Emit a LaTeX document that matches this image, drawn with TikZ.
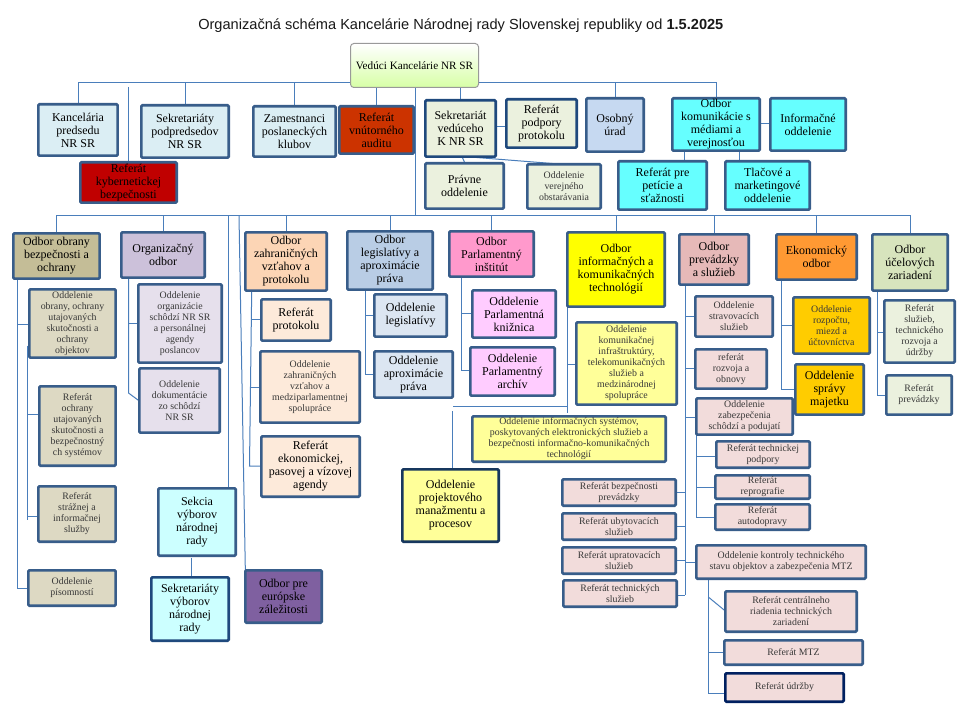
\documentclass[tikz,border=0pt]{standalone}
\usepackage{fontspec}
\setmainfont{Liberation Serif}
\newfontfamily\titlefont{Liberation Sans}
\usetikzlibrary{backgrounds}
\definecolor{bord}{HTML}{385D8A}
\definecolor{bordd}{HTML}{1F497D}
\definecolor{bordn}{HTML}{17375E}
\definecolor{bordu}{HTML}{002060}
\definecolor{lnk}{HTML}{4A7EBB}
\definecolor{cPred}{HTML}{DBEEF4}
\definecolor{cAud}{HTML}{CC3300}
\definecolor{cKyb}{HTML}{C00000}
\definecolor{cSek}{HTML}{EBF1DE}
\definecolor{cOso}{HTML}{C6D9F1}
\definecolor{cCya}{HTML}{66FFFF}
\definecolor{cObr}{HTML}{C4BD97}
\definecolor{cObs}{HTML}{DDD9C3}
\definecolor{cOrg}{HTML}{CCC1DA}
\definecolor{cOrs}{HTML}{E6E0EC}
\definecolor{cZah}{HTML}{FCD5B5}
\definecolor{cZas}{HTML}{FDEADA}
\definecolor{cLeg}{HTML}{B9CDE5}
\definecolor{cLes}{HTML}{DCE6F2}
\definecolor{cPar}{HTML}{FF99CC}
\definecolor{cPas}{HTML}{FFCCFF}
\definecolor{cInf}{HTML}{FFFF00}
\definecolor{cIns}{HTML}{FFFF99}
\definecolor{cPre}{HTML}{E6B9B8}
\definecolor{cPrs}{HTML}{F2DCDB}
\definecolor{cEko}{HTML}{FF9933}
\definecolor{cEks}{HTML}{FFCC00}
\definecolor{cUce}{HTML}{D7E4BD}
\definecolor{cVyb}{HTML}{CCFFFF}
\definecolor{cEur}{HTML}{7F60A0}
\tikzset{
  boxb/.style={draw=bord,line width=2pt,rounded corners=0.8pt,inner sep=0pt,outer sep=0pt,align=center,text=black,
    font=\fontsize{9}{9.75}\selectfont},
  sm/.style={text=black!78,font=\fontsize{7.4}{8.25}\selectfont},
  conn/.style={draw=lnk,line width=0.75pt},
  dk/.style={draw=bordd},
}
\newcommand{\bx}[7][]{%
  \pgfmathsetmacro\bxw{(#5-#3-2.67)*0.75}%
  \pgfmathsetmacro\bxh{(#6-#4-2.67)*0.75}%
  \node[boxb,#1,minimum width=\bxw pt,minimum height=\bxh pt] (#2) at ({(#3+#5)/2},{(#4+#6)/2}) {#7};}
\begin{document}
\begin{tikzpicture}[x=0.75pt,y=-0.75pt]
\useasboundingbox (0,0) rectangle (960,720);
\node[anchor=west,inner sep=0pt,font=\titlefont\fontsize{10.95}{13}\selectfont,text=black!90] (title) at (198,26)
  {Organizačná schéma Kancelárie Národnej rady Slovenskej republiky od \textbf{1.5.2025}};
% root
\node[draw=black!40,line width=0.75pt,rounded corners=2.5pt,top color=white,bottom color=green!45!yellow!35!white,
  minimum width=96pt,minimum height=33pt,inner sep=0pt,font=\fontsize{8.4}{9.75}\selectfont] (root) at (414.5,65.5) {Vedúci Kancelárie NR SR};
% top row
\bx[fill=cPred]{kanc}{37}{103}{119}{157}{Kancelária\\predsedu\\NR SR}
\bx[fill=cPred]{spod}{140}{104}{230}{159}{Sekretariáty\\podpredsedov\\NR SR}
\bx[fill=cPred]{zpos}{252}{105}{337}{158}{Zamestnanci\\poslaneckých\\klubov}
\bx[fill=cAud]{audi}{338}{105}{415}{155}{Referát\\vnútorného\\auditu}
\bx[fill=cKyb]{kybe}{79}{161}{178}{204}{Referát\\kybernetickej\\bezpečnosti}
\bx[fill=cSek,dk]{skan}{424}{99}{497}{158}{Sekretariát\\vedúceho\\K NR SR}
\bx[fill=cSek,dk]{rpod}{505}{98}{578}{149}{Referát\\podpory\\protokolu}
\bx[fill=cOso]{osob}{585}{97}{645}{153}{Osobný\\úrad}
\bx[fill=cCya]{okom}{671}{97}{761}{152}{Odbor\\komunikácie s\\médiami a\\verejnosťou}
\bx[fill=cCya]{oinf}{769}{97}{847}{152}{Informačné\\oddelenie}
\bx[fill=cSek]{prav}{424}{162}{505}{210}{Právne\\oddelenie}
\bx[fill=cSek,sm]{over}{526}{163}{602}{210}{Oddelenie\\verejného\\obstarávania}
\bx[fill=cCya]{rpet}{617}{160}{708}{211}{Referát pre\\petície a\\sťažnosti}
\bx[fill=cCya]{tlac}{724}{160}{811}{211}{Tlačové a\\marketingové\\oddelenie}
% odbory
\bx[fill=cObr]{obra}{12}{232}{101}{280}{Odbor obrany\\bezpečnosti a\\ochrany}
\bx[fill=cObs,sm]{oobr}{28}{288}{117}{359}{Oddelenie\\obrany, ochrany\\utajovaných\\skutočnosti a\\ochrany\\objektov}
\bx[fill=cObs,sm]{roch}{38}{385}{117}{467}{Referát\\ochrany\\utajovaných\\skutočnosti a\\bezpečnostný\\ch systémov}
\bx[fill=cObs,sm]{rstr}{37}{485}{117}{543}{Referát\\strážnej a\\informačnej\\služby}
\bx[fill=cObs,sm]{opis}{27}{569}{117}{607}{Oddelenie\\písomností}
\bx[fill=cOrg]{orga}{120}{231}{206}{279}{Organizačný\\odbor}
\bx[fill=cOrs,sm]{oosc}{137}{283}{223}{364}{Oddelenie\\organizácie\\schôdzí NR SR\\a personálnej\\agendy\\poslancov}
\bx[fill=cOrs,sm]{odok}{138}{367}{221}{434}{Oddelenie\\dokumentácie\\zo schôdzí\\NR SR}
\bx[fill=cZah]{zahr}{244}{231}{328}{292}{Odbor\\zahraničných\\vzťahov a\\protokolu}
\bx[fill=cZas]{rpro}{260}{298}{332}{342}{Referát\\protokolu}
\bx[fill=cZas,sm]{ozah}{259}{350}{361}{424}{Oddelenie\\zahraničných\\vzťahov a\\medziparlamentnej\\spolupráce}
\bx[fill=cZas]{reko}{260}{435}{361}{498}{Referát\\ekonomickej,\\pasovej a vízovej\\agendy}
\bx[fill=cVyb]{sekc}{157}{487}{237}{557}{Sekcia\\výborov\\národnej\\rady}
\bx[fill=cVyb,draw=bordd]{svyb}{150}{576}{230}{642}{Sekretariáty\\výborov\\národnej\\rady}
\bx[fill=cEur]{oeur}{244}{569}{323}{624}{Odbor pre\\európske\\záležitosti}
\bx[fill=cLeg]{legi}{346}{230}{434}{291}{Odbor\\legislatívy a\\aproximácie\\práva}
\bx[fill=cLes]{oleg}{373}{293}{448}{338}{Oddelenie\\legislatívy}
\bx[fill=cLes]{oapr}{373}{350}{454}{399}{Oddelenie\\aproximácie\\práva}
\bx[fill=cPar]{parl}{448}{230}{535}{278}{Odbor\\Parlamentný\\inštitút}
\bx[fill=cPas]{pkni}{471}{289}{557}{339}{Oddelenie\\Parlamentná\\knižnica}
\bx[fill=cPas]{parc}{469}{346}{556}{397}{Oddelenie\\Parlamentný\\archív}
\bx[fill=cInf]{info}{566}{231}{666}{308}{Odbor\\informačných a\\komunikačných\\technológií}
\bx[fill=cIns,sm]{okin}{575}{321}{678}{406}{Oddelenie\\komunikačnej\\infraštruktúry,\\telekomunikačných\\služieb a\\medzinárodnej\\spolupráce}
\bx[fill=cIns,sm]{oisy}{471}{415}{667}{463}{Oddelenie informačných systémov,\\poskytovaných elektronických služieb a\\bezpečnosti informačno-komunikačných\\technológií}
\bx[fill=cIns,draw=bordn]{opro}{401}{468}{500}{543}{Oddelenie\\projektového\\manažmentu a\\procesov}
\bx[fill=cPre]{prev}{678}{233}{750}{286}{Odbor\\prevádzky\\a služieb}
\bx[fill=cPrs,sm]{ostr}{694}{295}{774}{338}{Oddelenie\\stravovacích\\služieb}
\bx[fill=cPrs,sm]{rroz}{694}{348}{768}{390}{referát\\rozvoja a\\obnovy}
\bx[fill=cPrs,sm]{ozab}{695}{397}{794}{436}{Oddelenie\\zabezpečenia\\schôdzí a podujatí}
\bx[fill=cPrs,sm]{rtec}{715}{440}{811}{469}{Referát technickej\\podpory}
\bx[fill=cPrs,sm]{rrep}{714}{474}{811}{500}{Referát\\reprografie}
\bx[fill=cPrs,sm]{raut}{714}{503}{811}{531}{Referát\\autodopravy}
\bx[fill=cPrs,sm]{rbez}{561}{478}{677}{507}{Referát bezpečnosti\\prevádzky}
\bx[fill=cPrs,sm]{ruby}{561}{512}{677}{541}{Referát ubytovacích\\služieb}
\bx[fill=cPrs,sm]{rupr}{561}{546}{677}{575}{Referát upratovacích\\služieb}
\bx[fill=cPrs,sm]{rtes}{562}{579}{678}{608}{Referát technických\\služieb}
\bx[fill=cPrs,sm]{okon}{695}{544}{867}{580}{Oddelenie kontroly technického\\stavu objektov a zabezpečenia MTZ}
\bx[fill=cPrs,sm]{rcen}{724}{590}{858}{633}{Referát centrálneho\\riadenia technických\\zariadení}
\bx[fill=cPrs,sm]{rmtz}{723}{639}{864}{666}{Referát MTZ}
\bx[fill=cPrs,sm,draw=bordu]{rudr}{724}{672}{845}{703}{Referát údržby}
\bx[fill=cEko]{ekon}{775}{233}{858}{281}{Ekonomický\\odbor}
\bx[fill=cEks,sm]{ormu}{792}{296}{871}{355}{Oddelenie\\rozpočtu,\\miezd a\\účtovníctva}
\bx[fill=cEks]{ospr}{794}{363}{865}{416}{Oddelenie\\správy\\majetku}
\bx[fill=cUce]{ucel}{871}{233}{949}{292}{Odbor\\účelových\\zariadení}
\bx[fill=cSek,sm]{rslu}{883}{299}{956}{364}{Referát\\služieb,\\technického\\rozvoja a\\údržby}
\bx[fill=cSek,sm]{rpre}{885}{374}{953}{416}{Referát\\prevádzky}
% connectors
\coordinate (kybtop) at (128.5,87);
\coordinate (vbus) at (415.5,216);
\coordinate (prtop) at (452.7,411);
\begin{scope}[on background layer]
\fill[white] (0,0) rectangle (960,720);
% upper bus
\draw[conn] (kanc.north) -- (kanc.north |- 0,83) -- (okom.north |- 0,83) -- (okom.north);
\draw[conn] (spod.north) -- (spod.north |- 0,83);
\draw[conn] (zpos.north) -- (zpos.north |- 0,83);
\draw[conn] (osob.north) -- (osob.north |- 0,83);
\draw[conn] (root.south -| audi.north) -- (audi.north);
\draw[conn] (root.south -| skan.north) -- (skan.north);
\draw[conn] (kybtop) -- (kybe.north);
% central trunk and lower bus
\draw[conn] (root.south -| vbus) -- (vbus);
\draw[conn] (obra.north) -- (obra.north |- vbus) -- (ucel.north |- vbus) -- (ucel.north);
\foreach \n in {orga,zahr,legi,parl,info,prev,ekon}{\draw[conn] (\n.north |- vbus) -- (\n.north);}
\draw[conn] (vbus -| 228.5,0) -- (sekc.north -| 228.5,0);
\draw[conn] (vbus -| 239,0) -- (oeur.north west);
\draw[conn] (sekc.south -| 191.7,0) ++(0,2) -- (svyb.north -| 191.7,0);
% top-row side links
\draw[conn] (okom.east |- 0,124) -- (oinf.west |- 0,124);
\draw[conn] (okom.south -| 684.7,0) -- (rpet.north -| 684.7,0);
\draw[conn] (okom.south -| 739,0) -- (tlac.north -| 739,0);
\draw[conn] (skan.east |- 0,126.7) -- (rpod.west |- 0,126.7);
\draw[conn] (skan.south -| 462,0) -- (prav.north -| 465,0);
\draw[conn] (skan.south -| 466,0) -- (over.north -| 563,0);
% obrana
\draw[conn] (obra.south -| 17,0) |- (opis.west);
\draw[conn] (17,324) -- (oobr.west |- 0,324);
\draw[conn] (oobr.south -| 27.5,0) ++(0,-12) -- (27.5,520);
\draw[conn] (27.5,414) -- (roch.west |- 0,414);
\draw[conn] (27.5,516) -- (rstr.west |- 0,516);
% organizacny
\draw[conn] (orga.south -| 128.5,0) -- (128.5,393) -- (odok.west |- 0,401);
\draw[conn] (128.5,323) -- (oosc.west |- 0,323);
% zahranicny
\draw[conn] (zahr.south -| 251.7,0) -- (249.5,466) -- (reko.west |- 0,466);
\draw[conn] (251.2,319) -- (rpro.west |- 0,319);
\draw[conn] (250.7,387) -- (ozah.west |- 0,387);
% legislativa
\draw[conn] (legi.south -| 365.7,0) |- (oapr.west |- 0,374);
\draw[conn] (365.7,315) -- (oleg.west |- 0,315);
% parlament
\draw[conn] (parl.south -| 461.7,0) |- (parc.west |- 0,370);
\draw[conn] (461.7,313) -- (pkni.west |- 0,313);
% informatika
\draw[conn] (info.south -| 567.7,0) -- (567.7,413);
\draw[conn] (567.7,364) -- (okin.west |- 0,364);
\draw[conn] (567.7,406) -- (452.7,406);
\draw[conn] (prtop) -- (opro.north -| prtop);
% prevadzka
\draw[conn] (prev.south -| 685,0) -- (685,595);
\draw[conn] (685,316) -- (ostr.west |- 0,316);
\draw[conn] (685,368) -- (rroz.west |- 0,368);
\draw[conn] (685,417) -- (ozab.west |- 0,417);
\draw[conn] (rbez.east |- 0,492) -- (685,492);
\draw[conn] (ruby.east |- 0,526) -- (685,526);
\draw[conn] (rupr.east |- 0,560) -- (685,560);
\draw[conn] (rtes.east |- 0,595) -- (685,595);
\draw[conn] (685,562) -- (okon.west |- 0,562);
\draw[conn] (ozab.south -| 696.7,0) -- (696.7,517) -- (raut.west |- 0,517);
\draw[conn] (696.7,456) -- (rtec.west |- 0,456);
\draw[conn] (696.7,487) -- (rrep.west |- 0,487);
% kontrola
\draw[conn] (okon.south -| 708.3,0) -- (708.3,693) -- (rudr.west |- 0,693);
\draw[conn] (708.3,597) -- (rcen.west |- 0,611);
\draw[conn] (708.3,652) -- (rmtz.west |- 0,652);
% ekonomicky
\draw[conn] (ekon.south -| 781.7,0) |- (ospr.west |- 0,389);
\draw[conn] (781.7,325) -- (ormu.west |- 0,325);
% ucelove
\draw[conn] (ucel.south -| 877,0) |- (rpre.west |- 0,395);
\draw[conn] (877,332) -- (rslu.west |- 0,332);
\end{scope}
\end{tikzpicture}
\end{document}
